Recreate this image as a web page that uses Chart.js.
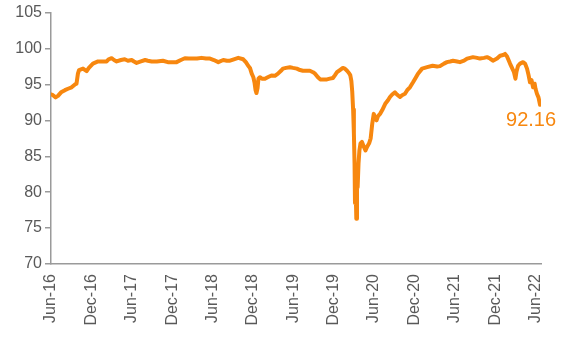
<!DOCTYPE html>
<html>
<head>
<meta charset="utf-8">
<script src="https://cdn.jsdelivr.net/npm/chart.js@4"></script>
<style>
  html, body { margin: 0; padding: 0; background: #ffffff; }
  #wrap { width: 562px; height: 338px; }
</style>
</head>
<body>
<div id="wrap"><canvas id="c" width="562" height="338"></canvas></div>
<script>
// Observation dates (YYYY-MM-DD)
const dates = [
  '2016-06-01','2016-06-10','2016-06-22','2016-07-02','2016-07-16','2016-08-03','2016-08-17','2016-09-03',
  '2016-09-18','2016-09-25','2016-10-01','2016-10-06','2016-10-24','2016-11-10','2016-11-20','2016-12-08',
  '2016-12-31','2017-01-23','2017-02-09','2017-02-18','2017-03-01','2017-03-12','2017-03-24','2017-04-13',
  '2017-04-30','2017-05-14','2017-05-31','2017-06-11','2017-06-23','2017-07-12','2017-07-31','2017-08-13',
  '2017-08-30','2017-09-23','2017-10-20','2017-11-12','2017-11-30','2017-12-21','2018-01-10','2018-01-28',
  '2018-02-15','2018-03-04','2018-03-22','2018-04-12','2018-05-02','2018-05-20','2018-06-07','2018-06-27',
  '2018-07-19','2018-08-05','2018-08-19','2018-09-06','2018-09-26','2018-10-18','2018-10-30','2018-11-10',
  '2018-11-18','2018-11-26','2018-12-03','2018-12-08','2018-12-13','2018-12-17','2018-12-22','2018-12-26',
  '2019-01-02','2019-01-11','2019-01-25','2019-02-07','2019-02-24','2019-03-09','2019-03-23','2019-04-06',
  '2019-04-15','2019-04-29','2019-05-16','2019-05-30','2019-06-17','2019-07-01','2019-07-14','2019-08-02',
  '2019-08-15','2019-08-29','2019-09-08','2019-09-21','2019-10-01','2019-10-18','2019-11-01','2019-11-14',
  '2019-11-28','2019-12-07','2019-12-16','2019-12-29','2020-01-12','2020-01-21','2020-01-31','2020-02-09',
  '2020-02-15','2020-02-20','2020-02-24','2020-02-28','2020-03-01','2020-03-04','2020-03-06','2020-03-09',
  '2020-03-12','2020-03-15','2020-03-18','2020-03-22','2020-03-26','2020-03-31','2020-04-07','2020-04-16',
  '2020-04-23','2020-04-30','2020-05-09','2020-05-16','2020-05-23','2020-05-30','2020-06-05','2020-06-12',
  '2020-06-19','2020-06-28','2020-07-07','2020-07-21','2020-08-03','2020-08-12','2020-08-22','2020-09-04',
  '2020-09-13','2020-09-27','2020-10-06','2020-10-19','2020-10-29','2020-11-11','2020-11-25','2020-12-04',
  '2020-12-17','2021-01-05','2021-01-28','2021-02-22','2021-03-12','2021-03-25','2021-04-13','2021-04-26',
  '2021-05-10','2021-05-23','2021-06-11','2021-06-24','2021-07-12','2021-07-26','2021-08-09','2021-08-22',
  '2021-09-10','2021-09-23','2021-10-11','2021-10-25','2021-11-08','2021-11-21','2021-12-09','2021-12-23',
  '2022-01-06','2022-01-15','2022-01-24','2022-02-07','2022-02-16','2022-02-25','2022-03-01','2022-03-06',
  '2022-03-13','2022-03-22','2022-04-05','2022-04-14','2022-04-23','2022-04-30','2022-05-06','2022-05-13',
  '2022-05-20','2022-05-27','2022-05-31','2022-06-07','2022-06-14','2022-06-21'
];

// Index level on each date
const values = [
  93.6, 93.5, 93.2, 93.4, 93.9, 94.2, 94.4, 94.6,
  95.0, 95.1, 96.5, 97.0, 97.2, 96.85, 97.3, 97.9,
  98.2, 98.2, 98.2, 98.5, 98.65, 98.4, 98.2, 98.4,
  98.5, 98.3, 98.4, 98.2, 98.0, 98.2, 98.4, 98.3,
  98.2, 98.2, 98.3, 98.1, 98.1, 98.1, 98.4, 98.65,
  98.6, 98.6, 98.6, 98.7, 98.6, 98.6, 98.4, 98.1,
  98.4, 98.3, 98.3, 98.5, 98.7, 98.5, 98.1, 97.6,
  97.3, 96.5, 96.0, 95.3, 94.2, 93.8, 94.5, 95.8,
  96.0, 95.8, 95.8, 96.0, 96.25, 96.2, 96.5, 96.9,
  97.2, 97.3, 97.4, 97.3, 97.2, 97.0, 96.9, 96.9,
  96.9, 96.7, 96.5, 96.0, 95.7, 95.7, 95.7, 95.8,
  95.9, 96.3, 96.7, 97.0, 97.3, 97.2, 96.9, 96.6,
  96.3, 95.5, 94.0, 91.5, 88.2, 84.0, 78.5, 80.5,
  76.3, 83.0, 80.7, 84.0, 85.8, 86.8, 87.0, 86.3,
  85.8, 86.3, 86.8, 87.5, 89.5, 90.9, 90.4, 90.0,
  90.6, 90.9, 91.4, 92.3, 92.8, 93.25, 93.6, 93.9,
  93.6, 93.25, 93.5, 93.7, 94.2, 94.6, 95.3, 95.8,
  96.5, 97.2, 97.4, 97.6, 97.5, 97.55, 97.9, 98.1,
  98.2, 98.3, 98.2, 98.1, 98.3, 98.6, 98.7, 98.8,
  98.7, 98.6, 98.7, 98.8, 98.6, 98.3, 98.6, 99.0,
  99.1, 99.25, 98.9, 97.9, 97.3, 96.7, 95.8, 96.8,
  97.6, 97.9, 98.1, 97.9, 97.2, 96.3, 95.3, 95.6,
  94.6, 95.1, 94.4, 93.7, 93.2, 92.16
];

// Half-yearly axis labels
const tickLabels = [
  'Jun-16','Dec-16','Jun-17','Dec-17','Jun-18','Dec-18','Jun-19',
  'Dec-19','Jun-20','Dec-20','Jun-21','Dec-21','Jun-22'
];

const ORANGE = '#F7870F';
const AXIS_GREY = '#9a9a9a';
const TEXT_GREY = '#595959';
const FONT = 'Liberation Sans, Arial, sans-serif';

// Months elapsed since 1 Jun 2016
function monthsFromStart(s) {
  const [y, m, d] = s.split('-').map(Number);
  return (y - 2016) * 12 + (m - 6) + (d - 1) / 30.44;
}

const points = dates.map((d, i) => ({ x: monthsFromStart(d), y: values[i] }));

// Writes the latest value under the end of the line
const endLabel = {
  id: 'endLabel',
  afterDatasetsDraw(chart) {
    const meta = chart.getDatasetMeta(0);
    const last = meta.data[meta.data.length - 1];
    const ctx = chart.ctx;
    ctx.save();
    ctx.fillStyle = ORANGE;
    ctx.font = '20px ' + FONT;
    ctx.textAlign = 'center';
    ctx.textBaseline = 'top';
    ctx.fillText(values[values.length - 1].toFixed(2), last.x - 9, last.y + 6);
    ctx.restore();
  }
};

new Chart(document.getElementById('c'), {
  type: 'line',
  data: {
    datasets: [{
      data: points,
      borderColor: ORANGE,
      borderWidth: 4,
      pointRadius: 0,
      tension: 0,
      fill: false,
      borderJoinStyle: 'round',
      borderCapStyle: 'round'
    }]
  },
  options: {
    responsive: false,
    animation: false,
    layout: { padding: { top: 12, right: 21, left: 0, bottom: 0 } },
    plugins: { legend: { display: false }, tooltip: { enabled: false } },
    scales: {
      x: {
        type: 'linear',
        min: 0,
        max: 72.8,
        afterBuildTicks: (s) => { s.ticks = tickLabels.map((_, i) => ({ value: i * 6 })); },
        afterFit: (s) => { s.height = 74; },
        ticks: {
          autoSkip: false,
          minRotation: 90,
          maxRotation: 90,
          padding: 2,
          color: TEXT_GREY,
          font: { family: FONT, size: 16 },
          callback: (v) => tickLabels[Math.round(v / 6)]
        },
        grid: { display: false },
        border: { display: true, color: AXIS_GREY, width: 1.5 }
      },
      y: {
        min: 70,
        max: 105,
        afterFit: (s) => { s.width = 51; },
        ticks: {
          stepSize: 5,
          padding: 3,
          color: TEXT_GREY,
          font: { family: FONT, size: 16 }
        },
        grid: { drawOnChartArea: false, drawTicks: true, tickLength: 6, color: AXIS_GREY, lineWidth: 1.5 },
        border: { display: true, color: AXIS_GREY, width: 1.5 }
      }
    }
  },
  plugins: [endLabel]
});
</script>
</body>
</html>
